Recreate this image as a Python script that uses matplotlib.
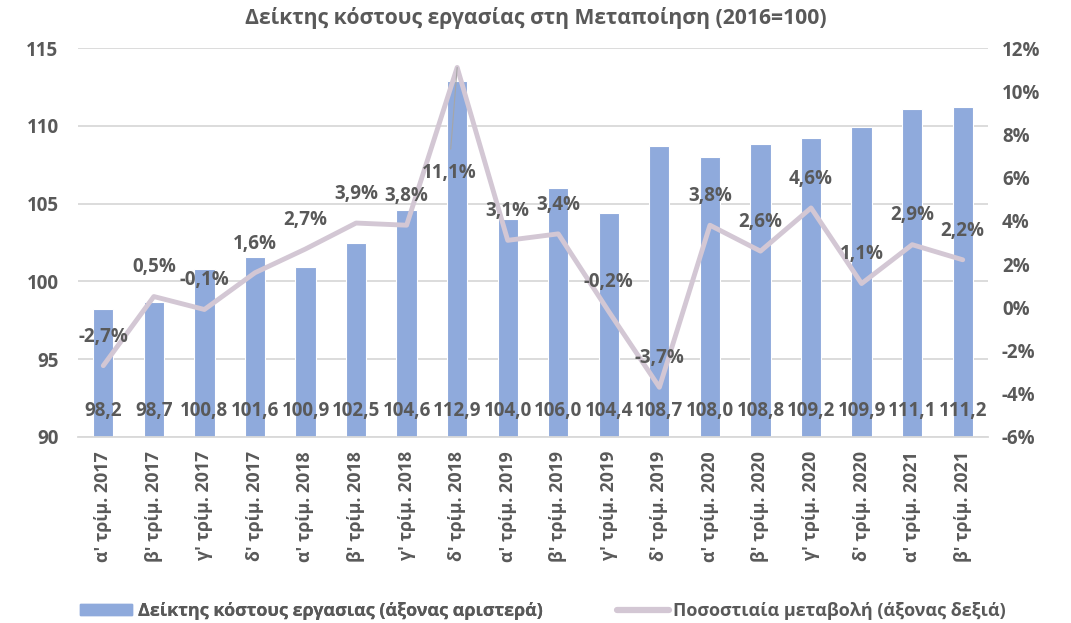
import matplotlib
matplotlib.use("Agg")
import matplotlib.pyplot as plt
from matplotlib.patches import Patch
from matplotlib.lines import Line2D

plt.rcParams['font.family'] = ['Open Sans', 'Noto Sans', 'DejaVu Sans']

categories = ["α' τρίμ. 2017", "β' τρίμ. 2017", "γ' τρίμ. 2017", "δ' τρίμ. 2017",
              "α' τρίμ. 2018", "β' τρίμ. 2018", "γ' τρίμ. 2018", "δ' τρίμ. 2018",
              "α' τρίμ. 2019", "β' τρίμ. 2019", "γ' τρίμ. 2019", "δ' τρίμ. 2019",
              "α' τρίμ. 2020", "β' τρίμ. 2020", "γ' τρίμ. 2020", "δ' τρίμ. 2020",
              "α' τρίμ. 2021", "β' τρίμ. 2021"]
index_values = [98.2, 98.7, 100.8, 101.6, 100.9, 102.5, 104.6, 112.9, 104.0,
                106.0, 104.4, 108.7, 108.0, 108.8, 109.2, 109.9, 111.1, 111.2]
pct_change = [-2.7, 0.5, -0.1, 1.6, 2.7, 3.9, 3.8, 11.1, 3.1, 3.4, -0.2, -3.7,
              3.8, 2.6, 4.6, 1.1, 2.9, 2.2]
left_ticks = [90, 95, 100, 105, 110, 115]
right_ticks = [-6, -4, -2, 0, 2, 4, 6, 8, 10, 12]

title = "Δείκτης κόστους εργασίας στη Μεταποίηση (2016=100)"
bar_label = "Δείκτης κόστους εργασιας (άξονας αριστερά)"
line_label = "Ποσοστιαία μεταβολή (άξονας δεξιά)"

TXT = '#595959'
BAR = '#8FAADC'
LINE = '#D3C7D4'
GRID = '#D9D9D9'
FS = 13.5

W, H = 1071, 623
fig = plt.figure(figsize=(W / 100, H / 100), dpi=100)
ax = fig.add_axes([78 / W, 1 - 437 / H, (988 - 78) / W, (437 - 48) / H])
x = list(range(len(categories)))

ax.bar(x, index_values, width=0.4, color=BAR, edgecolor='white', linewidth=0.8, zorder=2)
ax.set_ylim(90, 115)
ax.set_xlim(-0.5, len(categories) - 0.5)
ax.set_yticks(left_ticks)
ax.set_yticklabels([str(t) for t in left_ticks], fontsize=FS, fontweight='bold', color=TXT)
ax.yaxis.grid(True, color=GRID, linewidth=1.3, zorder=0)
ax.set_axisbelow(True)
for s in ['top', 'right', 'left']:
    ax.spines[s].set_visible(False)
ax.spines['bottom'].set_color(GRID)
ax.spines['bottom'].set_linewidth(1.3)
ax.tick_params(axis='both', length=0)
ax.tick_params(axis='y', pad=14)
ax.set_xticks(x)
ax.set_xticklabels(categories, rotation=90, fontsize=12.8, fontweight='bold', color=TXT)
ax.tick_params(axis='x', pad=10)

for xi, v in zip(x, index_values):
    ax.annotate(f"{v:.1f}".replace('.', ','), (xi, 90), xytext=(0, 19),
                textcoords='offset points', ha='center', va='center',
                fontsize=FS, fontweight='bold', color=TXT, zorder=5)

ax2 = ax.twinx()
ax2.plot(x, pct_change, color=LINE, linewidth=3.5, solid_capstyle='round', zorder=3)
ax2.set_ylim(-6, 12)
ax2.set_yticks(right_ticks)
ax2.set_yticklabels([f"{t}%" for t in right_ticks], fontsize=FS, fontweight='bold', color=TXT)
ax2.tick_params(axis='y', length=0, pad=10)
for s in ['top', 'right', 'left', 'bottom']:
    ax2.spines[s].set_visible(False)

for xi, v in zip(x, pct_change):
    txt = f"{v:.1f}%".replace('.', ',')
    if v == 11.1:
        ax2.annotate(txt, (xi, v), xytext=(-6, -76), textcoords='offset points',
                     ha='center', va='center', fontsize=FS, fontweight='bold', color=TXT,
                     arrowprops=dict(arrowstyle='-', color='#A6A6A6', lw=0.8,
                                     shrinkA=8, shrinkB=0))
    else:
        ax2.annotate(txt, (xi, v), xytext=(0, 21), textcoords='offset points',
                     ha='center', va='center', fontsize=FS, fontweight='bold', color=TXT)

fig.text(0.5, 1 - 18 / H, title, ha='center', va='center', fontsize=15.2,
         fontweight='bold', color=TXT)

leg1 = fig.legend([Patch(facecolor=BAR, edgecolor=BAR)], [bar_label],
                  loc='center left', bbox_to_anchor=(80 / W, 1 - 611 / H),
                  frameon=False, borderpad=0, borderaxespad=0,
                  prop={'size': 13, 'weight': 'bold'}, labelcolor=TXT,
                  handlelength=2.9, handleheight=0.55, handletextpad=0.3)
fig.legend([Line2D([0], [0], color=LINE, linewidth=4.5, solid_capstyle='round')], [line_label],
           loc='center left', bbox_to_anchor=(617 / W, 1 - 611 / H),
           frameon=False, borderpad=0, borderaxespad=0,
           prop={'size': 13, 'weight': 'bold'}, labelcolor=TXT,
           handlelength=2.9, handletextpad=0.2)
fig.add_artist(leg1)

fig.savefig('out.png', dpi=100)
